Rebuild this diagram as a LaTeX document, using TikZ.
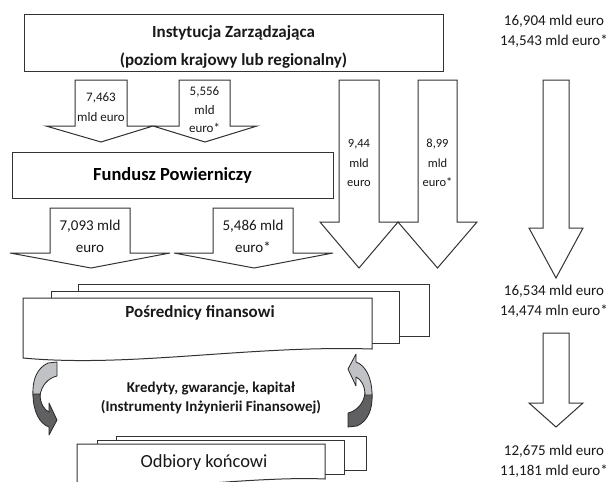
\documentclass[tikz,border=0pt]{standalone}
\usepackage{fontspec}
\setmainfont{Carlito}
\definecolor{lightg}{RGB}{192,194,197}
\definecolor{darkg}{RGB}{96,96,98}
\newcommand\blkarrow[8]{\draw[arr] (#1,#3) -- (#2,#3) -- (#2,#4) -- (#6,#4) -- (#7,#8) -- (#5,#4) -- (#1,#4) -- cycle;}
\begin{document}
\begin{tikzpicture}[x=1pt,y=-1pt,
  ln/.style={draw=black!80, line width=1pt, line join=miter},
  arr/.style={ln, fill=white},
  box/.style={ln, fill=white, inner sep=0pt},
  lbl/.style={align=center, inner sep=0pt, text=black!90},
  cur/.style={draw=black!85, line width=0.8pt, line join=round},
]
\useasboundingbox (0,0) rectangle (608,482);
\fill[white] (0,0) rectangle (608,482);

% Instytucja Zarzadzajaca
\node[box, minimum width=419pt, minimum height=57pt] (iz) at (233.5,42.5) {};
\node[lbl, font=\fontsize{17}{28}\selectfont\bfseries] (izt) at (233.5,47) {Instytucja Zarządzająca\\(poziom krajowy lub regionalny)};

% row 1 arrows
\blkarrow{75}{127}{80}{126}{46}{153}{101}{142}
\blkarrow{179}{230}{80}{126}{153}{257}{205}{142}
\node[lbl, font=\fontsize{13}{20}\selectfont] (a1) at (101,107) {7,463\\mld euro};
\node[lbl, font=\fontsize{13}{18.5}\selectfont] (a2) at (204.5,110) {5,556\\mld\\euro*};

% big arrows
\blkarrow{339}{379}{80}{222}{320}{398}{359}{268}
\blkarrow{418}{457}{80}{222}{398}{477}{437.5}{268}
\node[lbl, font=\fontsize{12.5}{19.5}\selectfont] (a5) at (359,163) {9,44\\mld\\euro};
\node[lbl, font=\fontsize{12.5}{19.5}\selectfont] (a6) at (437.5,163) {8,99\\mld\\euro*};

% Fundusz Powierniczy
\node[box, minimum width=321pt, minimum height=46pt, font=\fontsize{18.5}{22}\selectfont\bfseries] (fp) at (172.5,175) {Fundusz Powierniczy};

% row 2 arrows
\blkarrow{50}{130}{208}{253}{10}{170}{91}{268}
\blkarrow{213}{293}{208}{253}{174}{333}{254}{268}
\node[lbl, font=\fontsize{15}{22}\selectfont] (a3) at (90,236) {7,093 mld\\euro};
\node[lbl, font=\fontsize{15}{22}\selectfont] (a4) at (253,236) {5,486 mld\\euro*};

% right column
\node[lbl, font=\fontsize{15}{20}\selectfont] (r1) at (554,31) {16,904 mld euro\\14,543 mld euro*};
\blkarrow{543}{569}{80}{228}{529}{583}{556}{278}
\node[lbl, font=\fontsize{15}{20}\selectfont] (r2) at (554,301) {16,534 mld euro\\14,474 mln euro*};
\blkarrow{543}{569}{333}{403}{529}{583}{556}{427}
\node[lbl, font=\fontsize{15}{20}\selectfont] (r3) at (554,461) {12,675 mld euro\\11,181 mld euro*};

% Posrednicy finansowi (stack)
\draw[box] (78,284) rectangle (429,336);
\draw[box] (51,291) rectangle (399,343);
\draw[box] (23,298) -- (372,298) -- (372,349) .. controls (250,345) and (130,368) .. (23,358) -- cycle;
\node[lbl, font=\fontsize{17}{20}\selectfont\bfseries] (pf) at (200,313) {Pośrednicy finansowi};

% curved arrows
\draw[cur, fill=lightg] (48,363) -- (57,362) -- (57,376) .. controls (48,378) and (41,386) .. (40,396) -- (33,396) .. controls (32,380) and (37,368) .. (48,363) -- cycle;
\draw[cur, fill=darkg] (33,394) .. controls (33,412) and (40,424) .. (49,427) -- (49,435) -- (57,420) -- (49,403) -- (49,412) .. controls (44,410) and (40,403) .. (40,394) -- cycle;
\begin{scope}[shift={(405,789)}, scale=-1]
\draw[cur, fill=darkg] (48,363) -- (57,362) -- (57,376) .. controls (48,378) and (41,386) .. (40,396) -- (33,396) .. controls (32,380) and (37,368) .. (48,363) -- cycle;
\draw[cur, fill=lightg] (33,394) .. controls (33,412) and (40,424) .. (49,427) -- (49,435) -- (57,420) -- (49,403) -- (49,412) .. controls (44,410) and (40,403) .. (40,394) -- cycle;
\end{scope}

\node[lbl, font=\fontsize{15}{19.5}\selectfont\bfseries] (kr) at (211,398) {Kredyty, gwarancje, kapitał\\(Instrumenty Inżynierii Finansowej)};

% Odbiory koncowi (stack)
\draw[box] (116,436) rectangle (366,470);
\draw[box] (97,440) rectangle (344,474);
\draw[box] (77,444) -- (325,444) -- (325,479) .. controls (260,476) and (150,490) .. (77,492) -- cycle;
\node[lbl, font=\fontsize{18.5}{22}\selectfont] (ok) at (204,463) {Odbiory końcowi};
\end{tikzpicture}
\end{document}
